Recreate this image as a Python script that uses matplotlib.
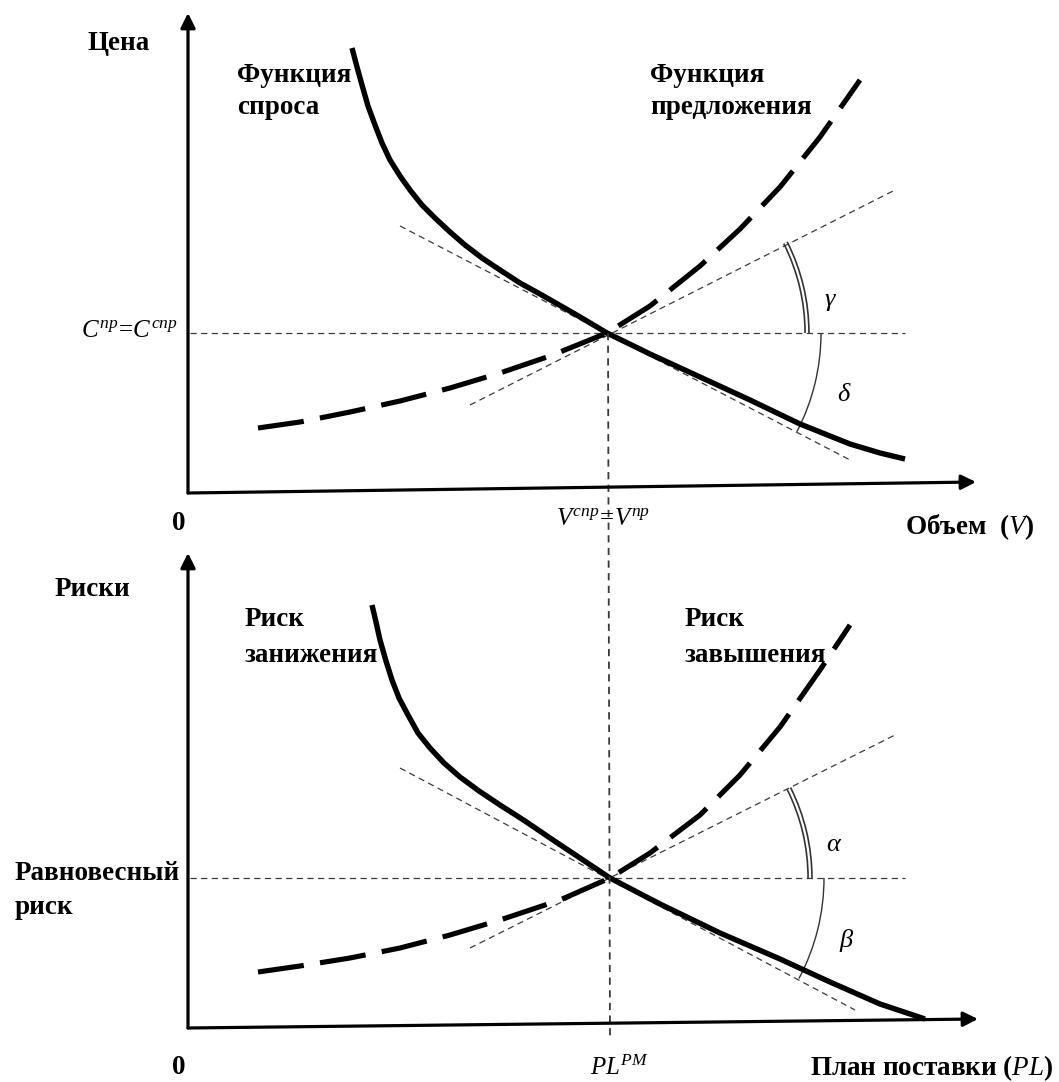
import matplotlib
matplotlib.use("Agg")
import matplotlib.pyplot as plt
import numpy as np
from matplotlib.patches import Arc

# ── canvas coordinates (pixels, y grows downward) ──
W, H = 1059, 1082

INK = "#000000"
DASH = "#3a3a3a"
SERIF = "Liberation Serif"

plt.rcParams["mathtext.fontset"] = "custom"
plt.rcParams["mathtext.rm"] = "Liberation Serif"
plt.rcParams["mathtext.it"] = "Liberation Serif:italic"
plt.rcParams["mathtext.bf"] = "Liberation Serif:bold"

# ── top panel: price vs volume ──
top_origin = (188, 493)
top_y_tip = (188, 13)
top_x_tip = (976, 482)
top_eq = (607, 333)

demand_top_x = [352, 357, 362, 368, 375, 382, 390, 400, 410, 422, 435, 450, 465, 482, 500, 520, 540, 575,
                607, 650, 700, 750, 800, 850, 880, 905]
demand_top_y = [48, 67, 85, 106, 125, 143, 160, 176, 190, 205, 218, 232, 245, 258, 270, 283, 294, 314,
                333, 354, 377, 400, 424, 444, 453, 459]

supply_top_x = [258, 300, 350, 400, 450, 500, 550, 607, 650, 700, 740, 780, 820, 860]
supply_top_y = [428, 422, 412, 401, 388, 373, 356, 333, 306, 266, 229, 187, 137, 80]

tan_supply_top = ([470, 895], [405, 190])
tan_demand_top = ([400, 852], [226, 461])

# ── bottom panel: risks vs delivery plan ──
bot_origin = (188, 1028)
bot_y_tip = (188, 553)
bot_x_tip = (978, 1019)
bot_eq = (610, 878)

demand_bot_x = [372, 376, 380, 386, 392, 399, 408, 418, 430, 444, 460, 479, 500, 525, 550, 610,
                660, 720, 780, 830, 880, 925]
demand_bot_y = [605, 622, 640, 661, 680, 698, 715, 733, 748, 763, 777, 791, 805, 821, 838, 878,
                904, 933, 959, 982, 1004, 1019]

supply_bot_x = [258, 300, 350, 400, 450, 500, 560, 610, 650, 700, 740, 780, 820, 850]
supply_bot_y = [972, 966, 958, 948, 935, 920, 900, 878, 853, 815, 775, 727, 670, 625]

tan_supply_bot = ([470, 895], [948, 735])
tan_demand_bot = ([400, 855], [768, 1010])

ARC_OUT_R = 200   # double arc radius (γ / α)
ARC_IN_R = 214    # single arc radius (δ / β)


def axis_arrow(ax, start, tip):
    ax.annotate("", xy=tip, xytext=start,
                arrowprops=dict(arrowstyle="-|>", lw=2.3, color=INK,
                                mutation_scale=22, shrinkA=0, shrinkB=0))


def panel(ax, origin, ytip, xtip, eq, dx, dy, sx, sy, tan_s, tan_d, greek):
    axis_arrow(ax, origin, ytip)
    axis_arrow(ax, origin, xtip)

    # thin dashed guides
    ax.plot([190, 905], [eq[1], eq[1]], color=DASH, lw=0.9, dashes=(5, 3.5))
    ax.plot(tan_s[0], tan_s[1], color=DASH, lw=0.9, dashes=(5, 3.5))
    ax.plot(tan_d[0], tan_d[1], color=DASH, lw=0.9, dashes=(5, 3.5))

    # curves
    ax.plot(dx, dy, color=INK, lw=3.9, solid_capstyle="butt", solid_joinstyle="round")
    ax.plot(sx, sy, color=INK, lw=3.7, dashes=(9, 3.2), dash_capstyle="butt",
            dash_joinstyle="round")

    # angle arcs centred at equilibrium
    a_up = np.degrees(np.arctan2(tan_s[1][1] - tan_s[1][0], tan_s[0][1] - tan_s[0][0]))
    a_dn = np.degrees(np.arctan2(tan_d[1][1] - tan_d[1][0], tan_d[0][1] - tan_d[0][0]))
    d = 2 * ARC_OUT_R
    ax.add_patch(Arc(eq, d, d, theta1=a_up, theta2=0, color="#333333", lw=4.0))
    ax.add_patch(Arc(eq, d, d, theta1=a_up, theta2=0, color="white", lw=1.6))
    d = 2 * ARC_IN_R
    ax.add_patch(Arc(eq, d, d, theta1=0, theta2=a_dn, color="#333333", lw=1.0))

    ax.text(eq[0] + 223, eq[1] - 33, greek[0], fontsize=19, family=SERIF,
            style="italic", ha="center", va="center")
    ax.text(eq[0] + 236, eq[1] + 62, greek[1], fontsize=19, family=SERIF,
            style="italic", ha="center", va="center")


fig = plt.figure(figsize=(W / 100, H / 100), dpi=100, facecolor="white")
ax = fig.add_axes([0, 0, 1, 1])
ax.set_xlim(0, W)
ax.set_ylim(H, 0)
ax.axis("off")

panel(ax, top_origin, top_y_tip, top_x_tip, top_eq,
      demand_top_x, demand_top_y, supply_top_x, supply_top_y,
      tan_supply_top, tan_demand_top, ("γ", "δ"))
panel(ax, bot_origin, bot_y_tip, bot_x_tip, bot_eq,
      demand_bot_x, demand_bot_y, supply_bot_x, supply_bot_y,
      tan_supply_bot, tan_demand_bot, ("α", "β"))

# vertical equilibrium line through both panels
ax.plot([608, 610], [top_eq[1], 1040], color=DASH, lw=1.3, dashes=(4, 3))

bold = dict(family=SERIF, fontweight="bold", fontsize=19.5, va="center", ha="left")

# top panel labels
ax.text(88, 43, "Цена", **bold)
ax.text(237, 76, "Функция", **bold)
ax.text(237, 107, "спроса", **bold)
ax.text(650, 76, "Функция", **bold)
ax.text(650, 107, "предложения", **bold)
ax.text(178, 330, r"$C^{пр}\!=\!C^{спр}$", fontsize=18, ha="right", va="center")
ax.text(172, 523, "0", **bold)
ax.text(603, 518, r"$V^{спр}\!=\!V^{пр}$", fontsize=18, ha="center", va="center")
ax.text(905, 527, r"$\mathbf{Объем}\ \ \mathbf{(}V\mathbf{)}$", fontsize=19.5, ha="left", va="center")

# bottom panel labels
ax.text(55, 590, "Риски", **bold)
ax.text(245, 620, "Риск", **bold)
ax.text(245, 655, "занижения", **bold)
ax.text(685, 620, "Риск", **bold)
ax.text(685, 655, "завышения", **bold)
ax.text(15, 873, "Равновесный", **bold)
ax.text(15, 908, "риск", **bold)
ax.text(172, 1068, "0", **bold)
ax.text(620, 1068, r"$PL^{PM}$", fontsize=18, ha="center", va="center")
ax.text(810, 1068, r"$\mathbf{План\ поставки\ (}PL\mathbf{)}$", fontsize=19.5, ha="left", va="center")

fig.savefig("out.png", dpi=100, facecolor="white")
